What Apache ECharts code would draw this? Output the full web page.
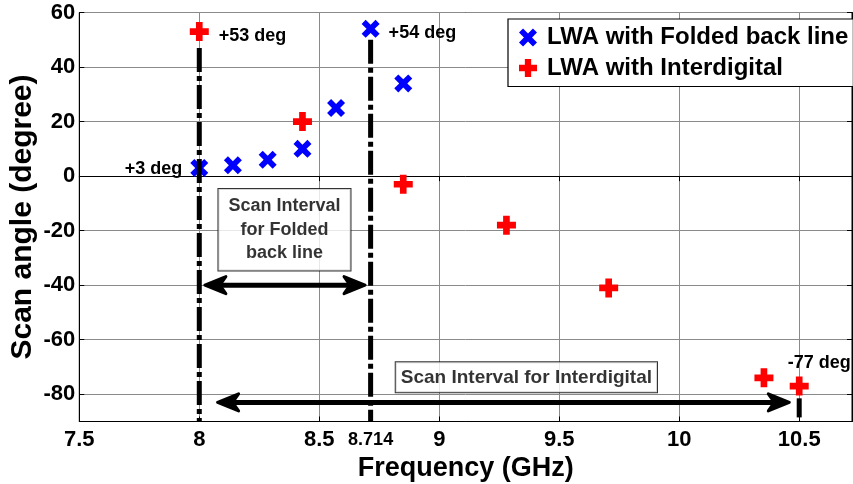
<!DOCTYPE html>
<html><head><meta charset="utf-8">
<script src="https://cdn.jsdelivr.net/npm/echarts@6/dist/echarts.min.js"></script>
<style>html,body{margin:0;padding:0;background:#fff}#c{width:853px;height:484px}</style>
</head><body><div id="c"></div>
<script>
// ---- data ----
const foldedName = 'LWA with Folded back line';
const interName = 'LWA with Interdigital';
const foldedFreq = [8.0, 8.14, 8.285, 8.43, 8.57, 8.714, 8.85];
const foldedAngle = [3, 4, 6, 10, 25, 54, 34];
const foldedNotes = ['+3 deg', '', '', '', '', '+54 deg', ''];
const interFreq = [8.0, 8.43, 8.85, 9.28, 9.706, 10.353, 10.5];
const interAngle = [53, 20, -3, -18, -41, -74, -77];
const interNotes = ['+53 deg', '', '', '', '', '', '-77 deg'];
const xTickValues = [7.5, 8, 8.5, 8.714, 9, 9.5, 10, 10.5];
const xTickLabels = ['7.5', '8', '8.5', '8.714', '9', '9.5', '10', '10.5'];
const yTickValues = [-80, -60, -40, -20, 0, 20, 40, 60];
const guideFreq = [8, 8.714, 10.5];
const guideTop = [47, 50, -81.5];
const guideBottom = [-90, -90, -88.5];
const arrowFrom = [8.017, 8.07];
const arrowTo = [8.697, 10.465];
const arrowAngle = [-40, -83];
const boxFreq = [8.355, 9.363];
const boxAngle = [-19.7, -73.8];
const boxTexts = ['Scan Interval\nfor Folded\nback line', 'Scan Interval for Interdigital'];

// ---- styling ----
const FONT = "'Liberation Sans', Arial, Helvetica, sans-serif";
const XPATH = 'path://M0,4.5L4.5,0L10,5.5L15.5,0L20,4.5L14.5,10L20,15.5L15.5,20L10,14.5L4.5,20L0,15.5L5.5,10Z';
const PLUSPATH = 'path://M6.5,0L13.5,0L13.5,6.5L20,6.5L20,13.5L13.5,13.5L13.5,20L6.5,20L6.5,13.5L0,13.5L0,6.5L6.5,6.5Z';
const noteStyle = {
  '+3 deg': {position: 'left', distance: 8, offset: [0, 1]},
  '+54 deg': {position: 'right', distance: 9, offset: [0, 4]},
  '+53 deg': {position: 'right', distance: 10, offset: [0, 4]},
  '-77 deg': {position: 'inside', offset: [20, -23]}
};
const boxPadding = [[6, 10, 5, 10], [4, 5, 4, 5]];

function pointData(xs, ys, notes) {
  return xs.map((x, i) => {
    const item = {value: [x, ys[i]]};
    if (notes[i]) {
      item.label = Object.assign({
        show: true, formatter: notes[i], fontFamily: FONT, fontWeight: 'bold',
        fontSize: 18, color: '#000'
      }, noteStyle[notes[i]]);
    }
    return item;
  });
}

const guideData = guideFreq.map((x, i) => [x, guideTop[i], guideBottom[i]]);
const arrowData = arrowFrom.map((x, i) => [x, arrowTo[i], arrowAngle[i]]);
const boxData = boxFreq.map((x, i) => ({
  value: [x, boxAngle[i]],
  label: {
    show: true, position: 'inside', formatter: boxTexts[i],
    fontFamily: FONT, fontWeight: 'bold', fontSize: i === 0 ? 18 : 19,
    lineHeight: i === 0 ? 23.5 : 22, color: '#000', align: 'center',
    backgroundColor: '#fff', borderColor: '#000', borderWidth: 1,
    padding: boxPadding[i]
  }
}));

function renderGuide(params, api) {
  const a = api.coord([api.value(0), api.value(1)]);
  const b = api.coord([api.value(0), api.value(2)]);
  return {
    type: 'line',
    shape: {x1: a[0], y1: a[1], x2: b[0], y2: b[1]},
    style: {stroke: '#000', lineWidth: 5, lineDash: [24, 4, 5, 4], lineCap: 'butt'}
  };
}

function renderArrow(params, api) {
  const a = api.coord([api.value(0), api.value(2)]);
  const b = api.coord([api.value(1), api.value(2)]);
  const y = a[1];
  const L = 21, H = 8.5, N = 15;
  const head = (tipX, dir) => ({
    type: 'polygon',
    shape: {points: [[tipX, y], [tipX + dir * L, y - H], [tipX + dir * N, y], [tipX + dir * L, y + H]]},
    style: {fill: '#000', stroke: '#000', lineWidth: 3, lineJoin: 'round'}
  });
  return {
    type: 'group',
    children: [
      {type: 'line', shape: {x1: a[0] + N, y1: y, x2: b[0] - N, y2: y},
       style: {stroke: '#000', lineWidth: 5}},
      head(a[0] + 1.5, 1),
      head(b[0] - 1.5, -1)
    ]
  };
}

const chart = echarts.init(document.getElementById('c'), null, {renderer: 'canvas'});
const axisFont = {fontFamily: FONT, fontWeight: 'bold', color: '#000'};

chart.setOption({
  animation: false,
  backgroundColor: '#fff',
  grid: {left: 79.3, right: 1, top: 12.5, bottom: 62.5, show: true, borderColor: '#000', borderWidth: 1,
         containLabel: false, outerBoundsMode: 'none'},
  legend: {
    orient: 'vertical', left: 508, top: 19,
    backgroundColor: '#fff', borderColor: '#000', borderWidth: 1.2,
    padding: [6.5, 5, 6.5, 11],
    itemWidth: 18, itemHeight: 18, itemGap: 6.5,
    textStyle: {fontFamily: FONT, fontWeight: 'bold', fontSize: 24, color: '#000', lineHeight: 24, padding: [0, 0, 0, 5]},
    data: [{name: foldedName, icon: XPATH}, {name: interName, icon: PLUSPATH}]
  },
  xAxis: [{
    type: 'value', min: 7.5, max: 10.72, interval: 0.5,
    name: 'Frequency (GHz)', nameLocation: 'middle', nameGap: 34, nameMoveOverlap: false,
    nameTextStyle: Object.assign({fontSize: 27}, axisFont),
    axisLine: {show: true, onZero: false, lineStyle: {color: '#000', width: 1}},
    axisTick: {show: true, inside: true, length: 5, lineStyle: {color: '#000'}},
    axisLabel: Object.assign({
      fontSize: 22, margin: 7,
      customValues: xTickValues,
      formatter: v => {
        const i = xTickValues.findIndex(t => Math.abs(t - v) < 1e-6);
        if (i < 0) return '';
        return xTickLabels[i] === '8.714' ? '{s|' + xTickLabels[i] + '}' : xTickLabels[i];
      },
      rich: {s: {fontFamily: FONT, fontWeight: 'bold', fontSize: 18, color: '#000', padding: [3, 0, 0, 0]}}
    }, axisFont),
    splitLine: {show: true, lineStyle: {color: '#8a8a8a', width: 1}}
  }, {
    type: 'value', position: 'top', min: 7.5, max: 10.72, interval: 0.5,
    axisLine: {show: true, lineStyle: {color: '#000'}},
    axisTick: {show: true, inside: true, length: 5, lineStyle: {color: '#000'}},
    axisLabel: {show: false}, splitLine: {show: false}
  }],
  yAxis: [{
    type: 'value', min: -90, max: 60,
    name: 'Scan angle (degree)', nameLocation: 'middle', nameGap: 42, nameMoveOverlap: false,
    nameTextStyle: Object.assign({fontSize: 30}, axisFont),
    axisLine: {show: true, onZero: false, lineStyle: {color: '#000', width: 1}},
    axisTick: {show: true, inside: true, length: 5, customValues: yTickValues, lineStyle: {color: '#000'}},
    axisLabel: Object.assign({fontSize: 22, margin: 4, customValues: yTickValues}, axisFont),
    splitLine: {show: true, lineStyle: {color: '#8a8a8a', width: 1}}
  }, {
    type: 'value', position: 'right', min: -90, max: 60,
    axisLine: {show: true, lineStyle: {color: '#000'}},
    axisTick: {show: true, inside: true, length: 5, customValues: yTickValues, lineStyle: {color: '#000'}},
    axisLabel: {show: false}, splitLine: {show: false}
  }],
  series: [{
    name: foldedName, type: 'scatter', z: 2,
    symbol: XPATH, symbolSize: 18,
    itemStyle: {color: '#0000ff', opacity: 1},
    data: pointData(foldedFreq, foldedAngle, foldedNotes)
  }, {
    name: interName, type: 'scatter', z: 2,
    symbol: PLUSPATH, symbolSize: 19,
    itemStyle: {color: '#ff0000', opacity: 1},
    data: pointData(interFreq, interAngle, interNotes)
  }, {
    name: 'guides', type: 'custom', z: 3, silent: true,
    renderItem: renderGuide, encode: {x: 0, y: [1, 2]},
    data: guideData
  }, {
    name: 'arrows', type: 'custom', z: 3, silent: true,
    renderItem: renderArrow, encode: {x: [0, 1], y: 2},
    data: arrowData
  }, {
    name: 'boxes', type: 'scatter', z: 4, silent: true,
    symbolSize: 1, itemStyle: {color: 'rgba(0,0,0,0)'},
    data: boxData
  }]
});
</script>
</body></html>
